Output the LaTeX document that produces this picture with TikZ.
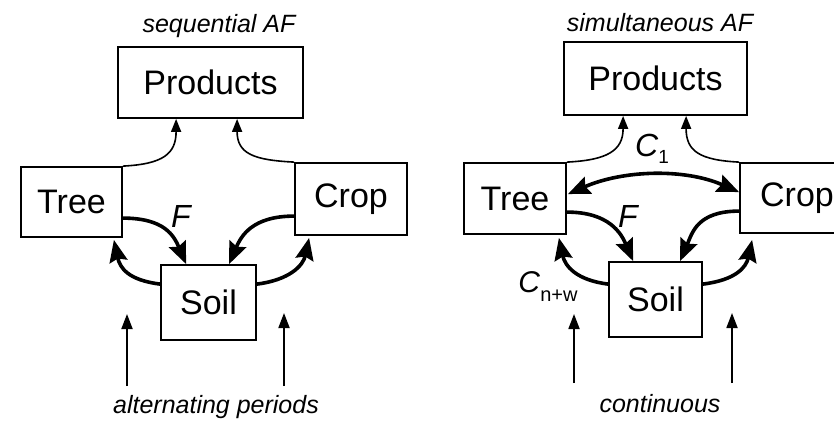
\documentclass[tikz,border=0pt]{standalone}
\usepackage{fontspec}
\setmainfont{Liberation Sans}
\usetikzlibrary{arrows.meta,calc}
\begin{document}
\begin{tikzpicture}[x=1pt,y=-1pt,
  box/.style={draw,line width=1.8pt,inner sep=0pt,font=\fontsize{34}{36}\selectfont},
  thin/.style={line width=1.6pt,-{Triangle[length=13pt,width=10pt]}},
  thick/.style={line width=3.6pt,-{Stealth[length=22pt,width=18pt,inset=3pt]}},
  vert/.style={line width=1.8pt,-{Triangle[length=15pt,width=11pt]}},
  lab/.style={font=\fontsize{25}{27}\selectfont\itshape,anchor=base},
  sym/.style={font=\fontsize{32}{34}\selectfont\itshape}]
\useasboundingbox (0,0) rectangle (834,420);
% ---------- left panel ----------
\node[lab] (tL) at (219,33) {sequential AF};
\node[box,minimum width=185pt,minimum height=71pt] (ProdL) at (210.5,82.5) {Products};
\node[box,minimum width=101pt,minimum height=70pt] (TreeL) at (71.5,202) {Tree};
\node[box,minimum width=112pt,minimum height=72pt] (CropL) at (351,199) {Crop};
\node[box,minimum width=95pt,minimum height=75pt] (SoilL) at (208.5,302.5) {Soil};
\node[sym] (FL) at (181,216) {F};
\node[lab] (bL) at (216,413) {alternating periods};
\coordinate (aL1) at (127,386);
\coordinate (aL2) at (284,386);
\draw[thin] (TreeL.north east) .. controls +(40,-2) and +(0,35) .. ($(ProdL.south west)+(59,0)$);
\draw[thin] (CropL.north west) .. controls +(-40,-2) and +(0,35) .. ($(ProdL.south west)+(120,0)$);
\draw[thick] ($(TreeL.north east)+(0,52)$) .. controls +(42,0) and +(-12,-28) .. ($(SoilL.north west)+(26,0)$);
\draw[thick] ($(CropL.north west)+(0,54)$) .. controls +(-42,0) and +(12,-28) .. ($(SoilL.north west)+(69,0)$);
\draw[thick] ($(SoilL.north west)+(0,20)$) .. controls +(-32,-4) and +(6,28) .. ($(TreeL.south east)+(-9,2)$);
\draw[thick] ($(SoilL.north east)+(0,20)$) .. controls +(32,-4) and +(-6,28) .. ($(CropL.south west)+(15,2)$);
\draw[vert] (aL1) -- ($(aL1)+(0,-72)$);
\draw[vert] (aL2) -- ($(aL2)+(0,-73)$);
% ---------- right panel ----------
\node[lab] (tR) at (660,32) {simultaneous AF};
\node[box,minimum width=183pt,minimum height=73pt] (ProdR) at (655.5,78.5) {Products};
\node[box,minimum width=102pt,minimum height=71pt] (TreeR) at (515,198.5) {Tree};
\node[box,minimum width=114pt,minimum height=70pt] (CropR) at (797,198) {Crop};
\node[box,minimum width=93pt,minimum height=75pt] (SoilR) at (655.5,299.5) {Soil};
\node[sym] (FR) at (628,216) {F};
\node[font=\fontsize{32}{34}\selectfont] (C1) at (652,149) {\textit{C}\raisebox{-7pt}{\fontsize{19}{19}\selectfont 1}};
\node[font=\fontsize{30}{32}\selectfont] (Cnw) at (548,287) {\textit{C}\raisebox{-9pt}{\fontsize{20}{20}\selectfont n+w}};
\node[lab] (bR) at (660,412) {continuous};
\coordinate (aR1) at (574,383);
\coordinate (aR2) at (732,383);
\draw[thin] (TreeR.north east) .. controls +(40,-2) and +(0,35) .. ($(ProdR.south west)+(60,0)$);
\draw[thin] (CropR.north west) .. controls +(-40,-2) and +(0,35) .. ($(ProdR.south west)+(123,0)$);
\draw[line width=3.6pt,{Stealth[length=22pt,width=18pt,inset=3pt]}-{Stealth[length=22pt,width=18pt,inset=3pt]}]
  ($(TreeR.north east)+(1,32)$) .. controls +(55,-24) and +(-55,-24) .. ($(CropR.north west)+(0,30)$);
\draw[thick] ($(TreeR.north east)+(0,50)$) .. controls +(42,0) and +(-12,-28) .. ($(SoilR.north west)+(25,0)$);
\draw[thick] ($(CropR.north west)+(0,49)$) .. controls +(-42,0) and +(12,-28) .. ($(SoilR.north west)+(72,0)$);
\draw[thick] ($(SoilR.north west)+(0,23)$) .. controls +(-32,-4) and +(6,28) .. ($(TreeR.south east)+(-8,3)$);
\draw[thick] ($(SoilR.north east)+(0,23)$) .. controls +(32,-4) and +(-6,28) .. ($(CropR.south west)+(13,6)$);
\draw[vert] (aR1) -- ($(aR1)+(0,-69)$);
\draw[vert] (aR2) -- ($(aR2)+(0,-70)$);
\end{tikzpicture}
\end{document}
